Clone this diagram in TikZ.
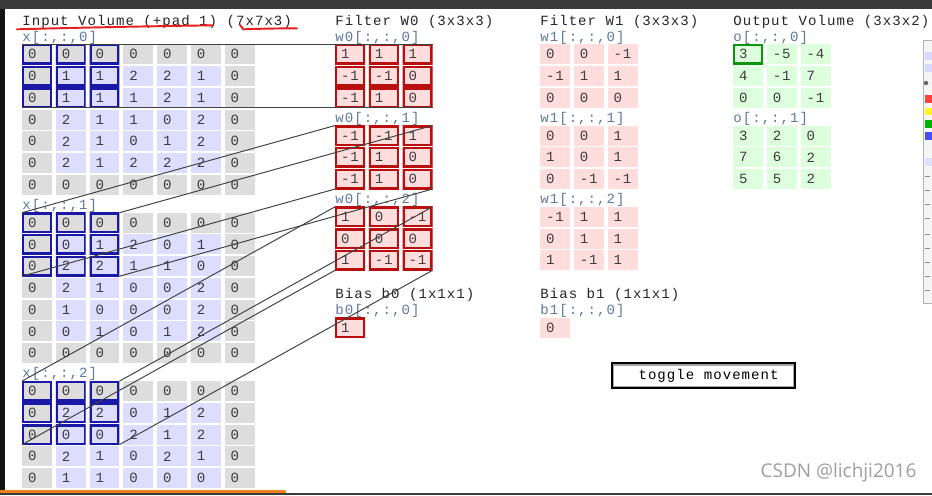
\documentclass[tikz,border=0pt]{standalone}
\usepackage{fontspec}
\usetikzlibrary{positioning}

\newfontfamily\demofont[LetterSpace=7.4]{Liberation Mono}
\newfontfamily\wmfont{Open Sans}

\definecolor{padgray}{RGB}{221,221,221}
\definecolor{ingrid}{RGB}{221,221,255}
\definecolor{wpink}{RGB}{255,221,221}
\definecolor{ogreen}{RGB}{221,255,221}
\definecolor{hiblue}{RGB}{25,25,165}
\definecolor{hired}{RGB}{185,15,15}
\definecolor{higreen}{RGB}{10,150,10}
\definecolor{lblcol}{RGB}{95,120,155}
\definecolor{digcol}{RGB}{60,60,60}
\definecolor{chrome}{RGB}{58,58,58}
\definecolor{penred}{RGB}{232,30,30}
\definecolor{barorange}{RGB}{240,130,30}

% one slice of a volume: name, left x, top y, options, rows
\newcommand{\volslice}[5]{%
  \foreach \rw [count=\r from 0] in {#5} {
    \foreach \v [count=\c from 0] in \rw {
      \node[cell, #4] (#1-\r-\c) at ({#2+15+33.75*\c},{#3+10+21.75*\r}) {\v};
    }
  }
}

\begin{document}
\begin{tikzpicture}[
        x=0.02cm, y=-0.02cm,
        cell/.style={rectangle, inner xsep=0.12cm, inner ysep=0pt, outer sep=0pt, text width=0.36cm, align=left, minimum height=0.4cm, font=\demofont\fontsize{8}{9}\selectfont, text=digcol},
        padded/.code={\pgfmathtruncatemacro\ispad{(\r==0)||(\r==6)||(\c==0)||(\c==6)}\ifnum\ispad=1 \pgfkeysalso{fill=padgray}\else\pgfkeysalso{fill=ingrid}\fi},
        hibox/.style={path picture={\draw[#1, line width=2.3pt] (path picture bounding box.south west) rectangle (path picture bounding box.north east);}},
        hiblock/.code 2 args={\ifnum\r<#1\relax\ifnum\c<#1\relax\pgfkeysalso{hibox=#2}\fi\fi},
        lbl/.style={inner sep=0pt, font=\demofont\fontsize{8}{9}\selectfont, text=lblcol},
        ttl/.style={inner sep=0pt, anchor=base west, font=\demofont\fontsize{8}{9}\selectfont, text=black!85},
        link/.style={draw=black!75, line width=0.55pt},
        pen/.style={draw=penred, line width=1.1pt, line cap=round},
        button/.style={draw=black, line width=1.1pt, fill=white, minimum width=3.67cm, minimum height=0.5cm, font=\demofont\fontsize{8}{9}\selectfont, text=black, path picture={\draw[black!35, line width=2.6pt] (path picture bounding box.south west) rectangle (path picture bounding box.north east);}},
        wm/.style={font=\wmfont\fontsize{10.8}{13}\selectfont, text=black!38}
    ]
        \fill[white] (0,0) rectangle (932,495);
        \useasboundingbox (0,0) rectangle (932,495);

        % Titles
        \node[ttl] (tin) at (22,25) {Input Volume (+pad 1) (7x7x3)};
        \node[ttl] (tw0) at (335,25) {Filter W0 (3x3x3)};
        \node[ttl] (tw1) at (540,25) {Filter W1 (3x3x3)};
        \node[ttl] (tout) at (733,25) {Output Volume (3x3x2)};
        \node[ttl] (tb0) at (335,298) {Bias b0 (1x1x1)};
        \node[ttl] (tb1) at (540,298) {Bias b1 (1x1x1)};

        % Input volume
        \volslice{x0}{22}{44.3}{padded, hiblock={3}{hiblue}}{{0,0,0,0,0,0,0},{0,1,1,2,2,1,0},{0,1,1,1,2,1,0},{0,2,1,1,0,2,0},{0,2,1,0,1,2,0},{0,2,1,2,2,2,0},{0,0,0,0,0,0,0}}
        \volslice{x1}{22}{212.7}{padded, hiblock={3}{hiblue}}{{0,0,0,0,0,0,0},{0,0,1,2,0,1,0},{0,2,2,1,1,0,0},{0,2,1,0,0,2,0},{0,1,0,0,0,2,0},{0,0,1,0,1,2,0},{0,0,0,0,0,0,0}}
        \volslice{x2}{22}{381.1}{padded, hiblock={3}{hiblue}}{{0,0,0,0,0,0,0},{0,2,2,0,1,2,0},{0,0,0,2,1,2,0},{0,2,1,0,2,1,0},{0,1,1,0,0,0,0}}

        % Filters and biases
        \volslice{w0a}{335}{44.3}{fill=wpink, hibox=hired}{{1,1,1},{-1,-1,0},{-1,1,0}}
        \volslice{w0b}{335}{125.55}{fill=wpink, hibox=hired}{{-1,-1,1},{-1,1,0},{-1,1,0}}
        \volslice{w0c}{335}{206.8}{fill=wpink, hibox=hired}{{1,0,-1},{0,0,0},{1,-1,-1}}
        \volslice{b0}{335}{317.7}{fill=wpink, hibox=hired}{{1}}
        \volslice{w1a}{540}{44.3}{fill=wpink}{{0,0,-1},{-1,1,1},{0,0,0}}
        \volslice{w1b}{540}{125.55}{fill=wpink}{{0,0,1},{1,0,1},{0,-1,-1}}
        \volslice{w1c}{540}{206.8}{fill=wpink}{{-1,1,1},{0,1,1},{1,-1,1}}
        \volslice{b1}{540}{317.7}{fill=wpink}{{0}}

        % Output volume
        \volslice{o0}{733}{44.3}{fill=ogreen, hiblock={1}{higreen}}{{3,-5,-4},{4,-1,7},{0,0,-1}}
        \volslice{o1}{733}{125.55}{fill=ogreen}{{3,2,0},{7,6,2},{5,5,2}}

        % Slice labels
        \foreach \n/\p/\k in {x0/x/0, x1/x/1, x2/x/2, w0a/w0/0, w0b/w0/1, w0c/w0/2, b0/b0/0, w1a/w1/0, w1b/w1/1, w1c/w1/2, b1/b1/0, o0/o/0, o1/o/1}
            \node[lbl, above right=0pt and 0pt of \n-0-0.north west] (\n-l) {\p[:,:,\k]};

        \node[button] (toggle) at (703.3,375.8) {\hspace{6pt}toggle movement};

        % Lines from receptive field to filter
        \foreach \s/\w in {x0/w0a, x1/w0b, x2/w0c} {
            \draw[link] (\s-0-0.north west) -- (\w-0-0.north west);
            \draw[link] (\s-0-2.north east) -- (\w-0-2.north east);
            \draw[link] (\s-2-0.south west) -- (\w-2-0.south west);
            \draw[link] (\s-2-2.south east) -- (\w-2-2.south east);
        }

        % Red pen marks
        \draw[pen] (17,29.3) .. controls (80,27.6) and (150,26.2) .. (213,25.3);
        \draw[pen] (240,25) -- (243.5,29.3) .. controls (262,28.6) and (280,28.4) .. (297,28.3);

        \node[wm] (csdn) at (838.5,473) {CSDN @lichji2016};

        % Screen edges
        \fill[chrome] (0,0) rectangle (932,8.5);
        \fill[black!92] (0,8.5) rectangle (5,495);
        \fill[chrome] (0,493) rectangle (932,495);
        \fill[barorange] (0,490) rectangle (286,493.3);
        \filldraw[fill=black!4, draw=black!30] (923.5,40) rectangle (933,303);
        \fill[blue!15] (924.5,52) rectangle (933,60);
        \fill[blue!15] (924.5,64) rectangle (933,72);
        \fill[black!60] (926,83) circle (2.2);
        \fill[red!75] (924.5,95) rectangle (933,103);
        \fill[yellow!85] (924.5,108) rectangle (933,115);
        \fill[green!70!black] (924.5,120) rectangle (933,128);
        \fill[blue!70] (924.5,132) rectangle (933,140);
        \fill[blue!12] (924.5,158) rectangle (933,166);
        \foreach \yy in {176,190,204,218,234,248,262,276,290}
            \draw[black!45] (925,\yy) -- (930,\yy);
    \end{tikzpicture}
\end{document}
